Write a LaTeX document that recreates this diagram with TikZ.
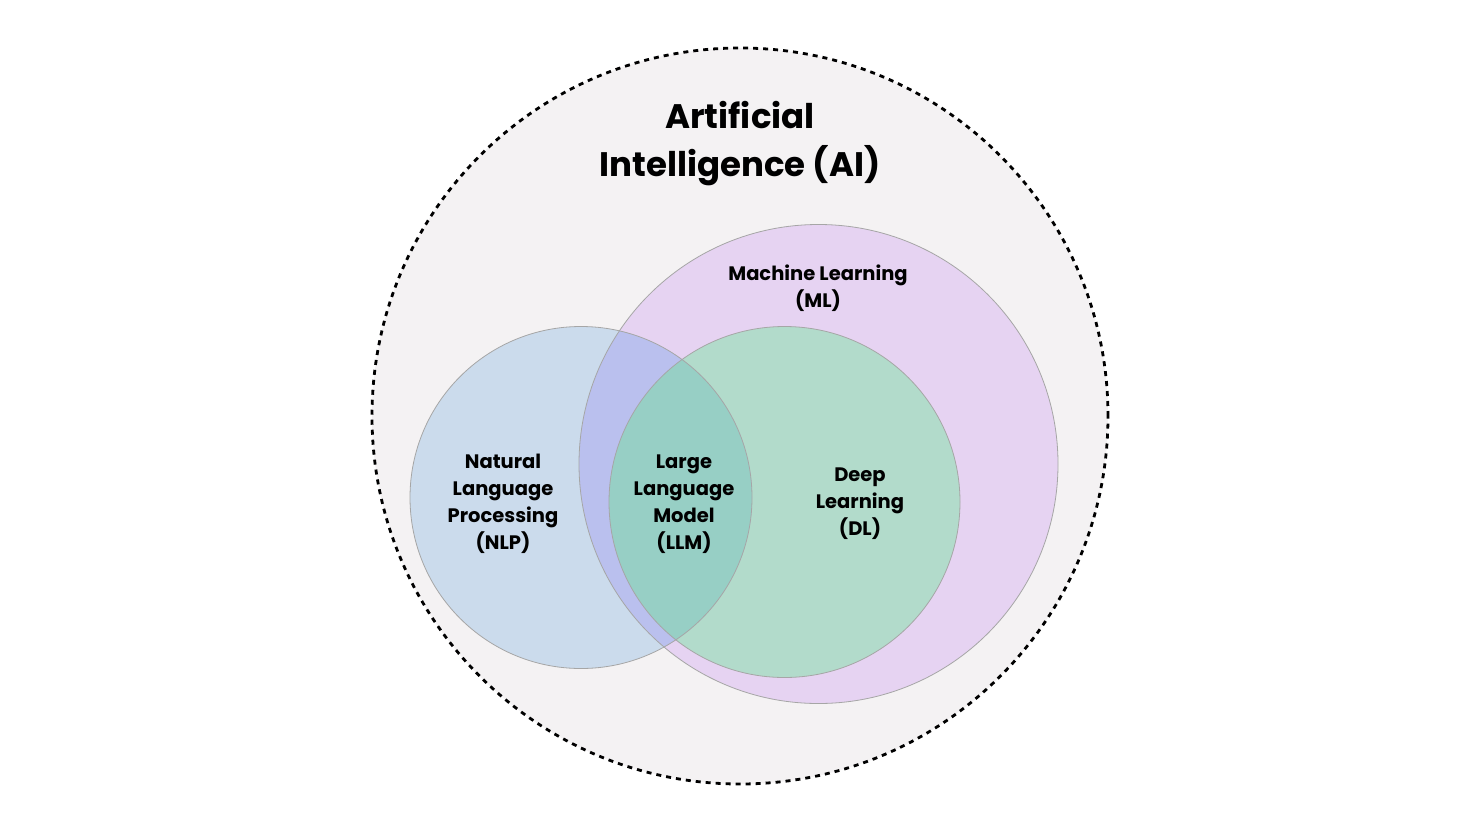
\documentclass[tikz,border=0pt]{standalone}
\usepackage{fontspec}
\setmainfont{Poppins}
\begin{document}
\begin{tikzpicture}[x=1pt,y=-1pt,
  lbl/.style={align=center,font=\bfseries\fontsize{19.5}{27}\selectfont,text=black},
  edge/.style={draw=black!35,line width=0.8pt}]
\useasboundingbox (0,0) rectangle (1480,833);
\fill[white] (0,0) rectangle (1480,833);
\definecolor{aibg}{HTML}{F4F2F3}
\definecolor{mlc}{HTML}{E6D3F2}
\definecolor{nlpc}{HTML}{CBDBEC}
\definecolor{dlc}{HTML}{B2DBCB}
\definecolor{nlpml}{HTML}{BAC0EE}
\definecolor{nlpdl}{HTML}{97CFC5}
\node[circle,minimum size=736pt,inner sep=0pt,fill=aibg,draw=black,line width=2.8pt,dash pattern=on 5pt off 5pt] (ai) at (740,416) {};
\fill[mlc] (818.5,464) circle (239.5);
\fill[dlc] (784.5,502) circle (175.5);
\fill[nlpc] (581,497.5) circle (171);
\begin{scope}
 \clip (581,497.5) circle (171);
 \fill[nlpml] (818.5,464) circle (239.5);
 \fill[nlpdl] (784.5,502) circle (175.5);
\end{scope}
\node[circle,minimum size=479pt,inner sep=0pt,edge] (ml) at (818.5,464) {};
\node[circle,minimum size=351pt,inner sep=0pt,edge] (dl) at (784.5,502) {};
\node[circle,minimum size=342pt,inner sep=0pt,edge] (nlp) at (581,497.5) {};
\node[align=center,font=\bfseries\fontsize{34}{48}\selectfont] (tai) at (740,144) {Artificial\\Intelligence (AI)};
\node[lbl] (tml) at (818,288) {Machine Learning\\(ML)};
\node[lbl] (tnlp) at (503,504) {Natural\\Language\\Processing\\(NLP)};
\node[lbl] (tllm) at (684,504) {Large\\Language\\Model\\(LLM)};
\node[lbl] (tdl) at (860,504) {Deep\\Learning\\(DL)};
\end{tikzpicture}
\end{document}
